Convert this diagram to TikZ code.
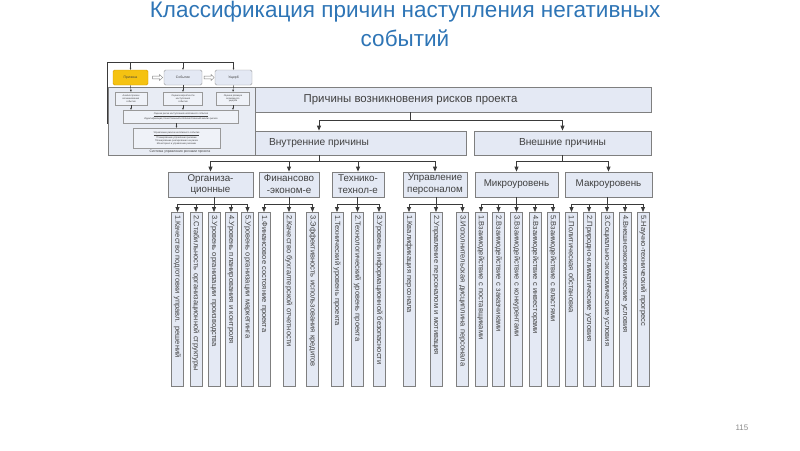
\documentclass[tikz,border=0pt]{standalone}
\usepackage{fontspec}
\setmainfont{Liberation Sans}
\usetikzlibrary{arrows.meta,shapes.arrows}
\definecolor{boxfill}{HTML}{E4E9F4}
\definecolor{boxdraw}{HTML}{7F7F7F}
\definecolor{txt}{HTML}{404040}
\definecolor{titleblue}{HTML}{2E75B6}
\definecolor{arr}{HTML}{3A3A3A}
\definecolor{gold}{HTML}{F5C211}
\definecolor{golddraw}{HTML}{D49A00}
\definecolor{panelfill}{HTML}{E8ECF4}
\newcommand{\tinyf}{\fontsize{2.4}{2.9}\selectfont}
\newcommand{\smallf}{\fontsize{3.4}{4}\selectfont}
\tikzset{
  box/.style={draw=boxdraw, fill=boxfill, line width=0.8pt, text=txt, align=center, inner sep=0pt},
  lone/.style={box, font=\fontsize{11.4}{13}\selectfont},
  ltwo/.style={box, font=\fontsize{10.2}{12}\selectfont, minimum height=24pt},
  lthree/.style={box, font=\fontsize{9.8}{11.8}\selectfont, minimum height=25pt},
  col/.style={draw=boxdraw, fill=boxfill, line width=0.7pt, text=txt, rotate=-90, anchor=west,
     minimum height=12pt, text width=168pt, inner xsep=3pt, inner ysep=0pt, align=left,
     font=\fontsize{7.5}{8}\selectfont},
  conn/.style={draw=arr, line width=0.8pt},
  tip/.style={-{Triangle[width=4pt,length=5pt]}},
  ibox/.style={draw=boxdraw!80, fill=boxfill, line width=0.4pt, rounded corners=1.5pt, inner sep=0pt, align=center, text=txt},
  sbox/.style={draw=boxdraw!80, fill=boxfill!60, line width=0.4pt, inner sep=0pt, align=center, text=txt, font=\tinyf},
  iconn/.style={draw=arr, line width=0.4pt},
  itip/.style={-{Triangle[width=1.6pt,length=2pt]}},
  harrow/.style={single arrow, draw=boxdraw, fill=white, line width=0.4pt, minimum height=10pt,
     minimum width=6pt, single arrow head extend=1.5pt, inner sep=1pt},
}
\begin{document}
\begin{tikzpicture}[x=1pt,y=-1pt]
\useasboundingbox (0,0) rectangle (800,450);
\fill[white] (0,0) rectangle (800,450);
% title
\node[text=titleblue, font=\fontsize{22.5}{26}\selectfont] (t1) at (405,12) {Классификация причин наступления негативных};
\node[text=titleblue, font=\fontsize{22.5}{26}\selectfont] (t2) at (405,38) {событий};
% level 1
\node[lone, minimum width=481pt, minimum height=25pt] (L1) at (410.5,99.5) {Причины возникновения рисков проекта};
% level 2
\node[ltwo, minimum width=294pt] (int) at (319,143) {Внутренние причины};
\node[ltwo, minimum width=177pt] (ext) at (562.5,143) {Внешние причины};
% level 3
\node[lthree, minimum width=85pt] (org) at (210.5,184.5) {Организа-\\ционные};
\node[lthree, minimum width=60pt] (fin) at (289,184.5) {Финансово\\-эконом-е};
\node[lthree, minimum width=52pt] (tech) at (358,184.5) {Технико-\\технол-е};
\node[lthree, minimum width=64pt] (upr) at (435,184.5) {Управление\\персоналом};
\node[lthree, minimum width=83pt] (mic) at (516.5,184.5) {Микроуровень};
\node[lthree, minimum width=87pt] (mac) at (608.5,184.5) {Макроуровень};
% columns
\node[col] (o1) at (177.5,212) {1.Качество подготовки управл. решений};
\node[col] (o2) at (196,212) {2.Стабильность организационной структуры};
\node[col] (o3) at (214,212) {3.Уровень организации производства};
\node[col] (o4) at (231,212) {4.Уровень планирования и контроля};
\node[col] (o5) at (247.5,212) {5.Уровень организации маркетинга};
\node[col] (f1) at (264,212) {1.Финансовое состояние проекта};
\node[col] (f2) at (289,212) {2.Качество бухгалтерской отчетности};
\node[col] (f3) at (312.5,212) {3.Эффективность использования кредитов};
\node[col] (e1) at (337,212) {1.Технический уровень проекта};
\node[col] (e2) at (357.5,212) {2.Технологический уровень проекта};
\node[col] (e3) at (379,212) {3.Уровень информационной безопасности};
\node[col] (u1) at (409,212) {1.Квалификация персонала};
\node[col] (u2) at (436,212) {2.Управление персоналом и мотивация};
\node[col] (u3) at (462.5,212) {3.Исполнительская дисциплина персонала};
\node[col] (m1) at (481,212) {1.Взаимодействие с поставщиками};
\node[col] (m2) at (498.5,212) {2.Взаимодействие с заказчиками};
\node[col] (m3) at (516.5,212) {3.Взаимодействие с конкурентами};
\node[col] (m4) at (535,212) {4.Взаимодействие с инвесторами};
\node[col] (m5) at (553,212) {5.Взаимодействие с властями};
\node[col] (a1) at (571.5,212) {1.Политическая обстановка};
\node[col] (a2) at (589,212) {2.Природно-климатические условия};
\node[col] (a3) at (607,212) {3.Социально-экономические условия};
\node[col] (a4) at (625,212) {4.Внешнеэкономические условия};
\node[col] (a5) at (643,212) {5.Научно-технический прогресс};
% connectors level 1 -> 2
\foreach \t in {int,ext} \draw[conn,tip] (L1.south) -- ++(0,8) -| (\t.north);
% level 2 -> 3
\foreach \t in {org,fin,tech,upr} \draw[conn,tip] (int.south) -- ++(0,6) -| (\t.north);
\foreach \t in {mic,mac} \draw[conn,tip] (ext.south) -- ++(0,6) -| (\t.north);
% level 3 -> 4
\foreach \t in {o1,o2,o3,o4,o5} \draw[conn,tip] (org.south -| o3.west) -- ++(0,7) -| (\t.west);
\foreach \t in {f1,f2,f3} \draw[conn,tip] (fin.south -| f2.west) -- ++(0,7) -| (\t.west);
\foreach \t in {e1,e2,e3} \draw[conn,tip] (tech.south -| e2.west) -- ++(0,7) -| (\t.west);
\foreach \t in {u1,u2,u3} \draw[conn,tip] (upr.south -| u2.west) -- ++(0,7) -| (\t.west);
\foreach \t in {m1,m2,m3,m4,m5} \draw[conn,tip] (mic.south -| m3.west) -- ++(0,7) -| (\t.west);
\foreach \t in {a1,a2,a3,a4,a5} \draw[conn,tip] (mac.south -| a3.west) -- ++(0,7) -| (\t.west);
% page number
\node[text=black!45, font=\fontsize{8}{9}\selectfont] (pg) at (742,428) {115};
% ---------- inset ----------
\fill[white] (100,56) rectangle (256,86);
\node[draw=boxdraw, fill=panelfill, line width=0.6pt, minimum width=147pt, minimum height=68pt, inner sep=0pt, anchor=north west] (panel) at (108,87) {};
\node[ibox, draw=golddraw, fill=gold, minimum width=35pt, minimum height=15pt, font=\smallf] (pr) at (130.5,77.5) {Причина};
\node[ibox, minimum width=38pt, minimum height=15pt, font=\smallf] (sob) at (183,77.5) {Событие};
\node[ibox, minimum width=37pt, minimum height=15pt, font=\smallf] (ush) at (233.5,77.5) {Ущерб};
\node[harrow] (ha1) at (157,77.5) {};
\node[harrow] (ha2) at (208.5,77.5) {};
\node[sbox, minimum width=32pt, minimum height=13pt] (s1) at (131,98.5) {Анализ причин\\возникновения\\события};
\node[sbox, minimum width=39pt, minimum height=13pt] (s2) at (183,98.5) {Оценка вероятности\\наступления\\события};
\node[sbox, minimum width=33pt, minimum height=13pt] (s3) at (233,98.5) {Оценка размера\\возможного\\ущерба};
\node[sbox, minimum width=115pt, minimum height=13pt] (w1) at (181,116.5) {\underline{Оценка риска наступления негативного события}\\Идентификация, Качественный и Количественный анализ рисков};
\node[sbox, minimum width=87pt, minimum height=20pt] (w2) at (176.5,138) {\underline{Управление риском негативного события}\\Планирование управления рисками\\Планирование реагирования на риски\\Мониторинг и управление рисками};
\node[text=txt, font=\fontsize{3.4}{4}\selectfont] (sys) at (180,151.5) {Система управления рисками проекта};
\coordinate (fb) at (107,62);
\draw[iconn] (panel.west |- w1.south) -- (fb |- w1.south) -- (fb) -- (ush.north |- fb);
\foreach \t in {pr,sob,ush} \draw[iconn,itip] (\t.north |- fb) -- (\t.north);
\draw[iconn,itip] (pr.south) -- (s1.north);
\draw[iconn,itip] (sob.south) -- (s2.north);
\draw[iconn,itip] (ush.south) -- (s3.north);
\draw[iconn,itip] (s1.south) -- (s1.south |- w1.north);
\draw[iconn,itip] (s2.south) -- (s2.south |- w1.north);
\draw[iconn,itip] (s3.south) -- (s3.south |- w1.north);
\draw[iconn,itip] (w1.south -| w2.north) -- (w2.north);
\end{tikzpicture}
\end{document}
